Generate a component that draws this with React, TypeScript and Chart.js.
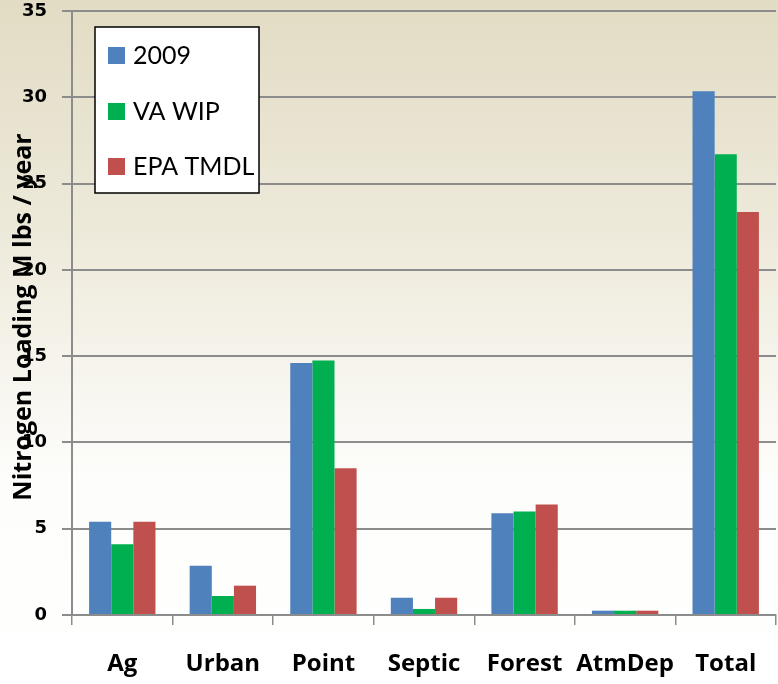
import React, { useEffect, useRef } from "react";
import { Chart, registerables } from "chart.js";

Chart.register(...registerables);

const categories = ["Ag", "Urban", "Point", "Septic", "Forest", "AtmDep", "Total"];
const series2009 = [5.4, 2.85, 14.6, 1.0, 5.9, 0.25, 30.35];
const seriesVAWIP = [4.1, 1.1, 14.75, 0.35, 6.0, 0.25, 26.7];
const seriesEPATMDL = [5.4, 1.7, 8.5, 1.0, 6.4, 0.25, 23.35];
const seriesLabels = ["2009", "VA WIP", "EPA TMDL"];
const seriesColors = ["#4f81bd", "#00b050", "#c0504d"];
const yTicks = [0, 5, 10, 15, 20, 25, 30, 35];
const yTitle = "Nitrogen Loading M lbs / year";

const bgPlugin = {
  id: "bgGradient",
  beforeDraw(chart: any) {
    const { ctx, width, height } = chart;
    const g = ctx.createLinearGradient(0, 0, 0, height);
    g.addColorStop(0, "#e2dcc4");
    g.addColorStop(0.35, "#eeeadb");
    g.addColorStop(0.7, "#fdfdfb");
    g.addColorStop(1, "#ffffff");
    ctx.save();
    ctx.fillStyle = g;
    ctx.fillRect(0, 0, width, height);
    ctx.restore();
  },
};

const overlayPlugin = {
  id: "overlay",
  afterDraw(chart: any) {
    const ctx = chart.ctx;
    ctx.save();
    // axis title
    ctx.translate(31, 317);
    ctx.rotate(-Math.PI / 2);
    ctx.font = "bold 25px 'Open Sans'";
    ctx.fillStyle = "#000";
    ctx.textAlign = "center";
    ctx.textBaseline = "alphabetic";
    ctx.fillText(yTitle, 0, 0);
    ctx.restore();

    // legend box
    ctx.save();
    ctx.fillStyle = "#ffffff";
    ctx.fillRect(95, 27, 164, 166);
    ctx.strokeStyle = "#000";
    ctx.lineWidth = 1.5;
    ctx.strokeRect(95, 27, 164, 166);
    const rows = [55, 111, 166];
    chart.data.datasets.forEach((ds: any, i: number) => {
      ctx.fillStyle = ds.backgroundColor;
      ctx.fillRect(108, rows[i] - 8, 17, 17);
      ctx.fillStyle = "#000";
      ctx.font = "25px Lato";
      ctx.textAlign = "left";
      ctx.textBaseline = "middle";
      ctx.fillText(ds.label, 133, rows[i] + 1);
    });
    ctx.restore();
  },
};

export default function App() {
  const ref = useRef<HTMLCanvasElement | null>(null);
  useEffect(() => {
    document.body.style.margin = "0";
    const chart = new Chart(ref.current!, {
      type: "bar",
      data: {
        labels: categories,
        datasets: [series2009, seriesVAWIP, seriesEPATMDL].map((d, i) => ({
          label: seriesLabels[i],
          data: d,
          backgroundColor: seriesColors[i],
          borderWidth: 0,
          categoryPercentage: 0.66,
          barPercentage: 1,
        })),
      },
      options: {
        animation: false,
        responsive: false,
        layout: { padding: { top: 11, right: 2, left: 0, bottom: 0 } },
        plugins: { legend: { display: false }, tooltip: { enabled: false } },
        scales: {
          x: {
            grid: {
              offset: true,
              drawOnChartArea: false,
              drawTicks: true,
              tickLength: 10,
              color: "#8c8c8c",
              lineWidth: 1.5,
            },
            border: { color: "#8c8c8c", width: 2 },
            ticks: {
              color: "#000",
              font: { family: "'Open Sans'", size: 24, weight: "bold" },
              padding: 25,
              maxRotation: 0,
              autoSkip: false,
            },
            afterFit(scale: any) {
              scale.height = 69;
              scale.paddingLeft = 0;
              scale.paddingRight = 0;
            },
          },
          y: {
            min: 0,
            max: 35,
            afterBuildTicks(scale: any) {
              scale.ticks = yTicks.map((v) => ({ value: v }));
            },
            grid: {
              color: "#8c8c8c",
              lineWidth: 2,
              drawTicks: true,
              tickLength: 10,
            },
            border: { color: "#8c8c8c", width: 2 },
            ticks: {
              color: "#000",
              font: { family: "'DejaVu Sans'", size: 18, weight: "bold" },
              padding: 15,
            },
            afterFit(scale: any) {
              scale.width = 72;
              scale.paddingTop = 0;
              scale.paddingBottom = 0;
            },
          },
        },
      },
      plugins: [bgPlugin, overlayPlugin],
    } as any);
    return () => chart.destroy();
  }, []);
  return <canvas ref={ref} width={778} height={684} style={{ display: "block" }} />;
}
